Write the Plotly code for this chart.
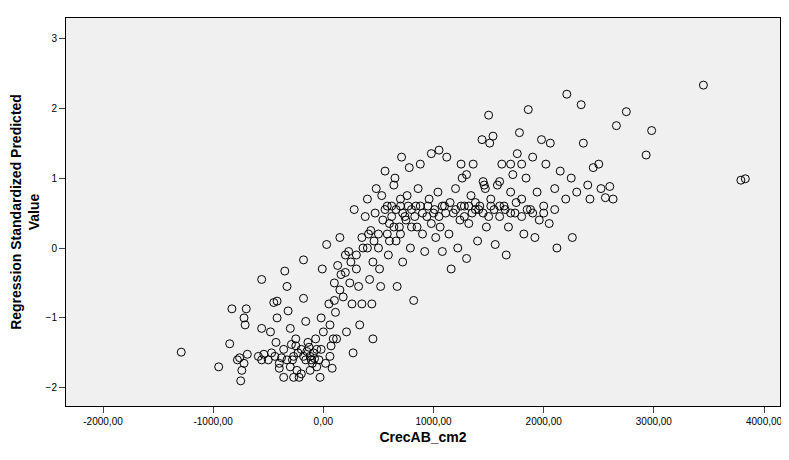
import plotly.graph_objects as go

# CrecAB_cm2 vs Regression Standardized Predicted Value
crec = [-1290, -950, -830, -850, -780, -760, -750, -740, -720, -700, -710, -690, -720, -560, -560, -590, -560, -540, -500, -480,
        -470, -440, -450, -420, -420, -380, -400, -360, -350, -330, -320, -300, -290, -280, -270, -250, -240, -220, -200, -180,
        -180, -160, -150, -130, -120, -110, -100, -80, -70, -60, -40, -20, -10, 0, 30, 50, 60, 70, 80, 100,
        110, 120, 130, 150, 160, 180, 200, 210, 230, 240, 260, 270, 280, 300, 320, 330, 350, 360, 380, 400,
        410, 420, 440, 450, 460, 470, 480, 500, 510, 520, 530, 560, 580, 590, 600, 620, 640, 650, 660, 670,
        690, 700, 710, 720, 740, 760, 780, 790, 800, 820, 840, 860, 880, 900, 920, 940, 960, 980, 1000, 1020,
        1040, 1050, 1060, 1080, 1100, 1120, 1140, 1160, 1180, 1200, 1220, 1240, 1260, 1280, 1300, 1320, 1340, 1360, 1380, 1400,
        1420, 1440, 1460, 1480, 1500, 1510, 1520, 1540, 1560, 1580, 1600, 1620, 1640, 1660, 1680, 1700, 1720, 1740, 1760, 1780,
        1800, 1820, 1840, 1860, 1880, 1900, 1920, 1940, 1960, 1980, 2000, 2020, 2050, 2060, 2100, 2120, 2150, 2200, 2210, 2250,
        2260, 2300, 2340, 2360, 2400, 2420, 2450, 2500, 2520, 2560, 2600, 2630, 2660, 2750, 2930, 2980, 3450, 3790, 3830,
        -250, -230, -200, -180, -160, -140, -90, -60, -30, -300, -330, -360, -400, -430, -270, -120, 60, 90, -20, 20,
        540, 560, 580, 620, 640, 660, 700, 720, 750, 770, 800, 830, 850, 880, 900, 950, 980, 1010, 1050, 1080,
        1110, 1150, 1200, 1250, 1280, 1320, 1350, 1380, 1410, 1450, 1470, 1520, 1550, 1600, 1650, 1700, 1750, 1800, 1850, 1900,
        2000, 2100, 350, 400, 430, 300, 250, 200, 150, 100, 700, 600, 500, 450, 1250, 1300, 1450, 1500, 1600, 1700, 1800]
pred = [-1.49, -1.7, -0.87, -1.37, -1.6, -1.57, -1.9, -1.75, -1.0, -0.87, -1.1, -1.52, -1.65, -0.45, -1.15, -1.55, -1.6, -1.52, -1.6, -1.2,
        -1.5, -1.55, -0.78, -0.76, -1.0, -1.57, -1.72, -1.85, -0.33, -0.55, -0.9, -1.15, -1.38, -1.6, -1.55, -1.3, -1.75, -1.85, -1.8, -0.17,
        -0.72, -1.05, -1.48, -1.42, -1.55, -1.6, -1.65, -1.58, -1.3, -1.45, -1.6, -1.0, -0.3, -1.2, 0.05, -0.8, -1.1, -1.4, -1.72, -0.5,
        -0.92, -1.3, -0.25, 0.15, -0.38, -0.7, -0.35, -1.2, -0.05, -0.5, -0.8, -1.5, 0.55, -0.3, -0.55, -1.1, -0.8, 0.0, 0.45, 0.7,
        0.2, -0.45, -0.8, -1.3, 0.1, 0.5, 0.85, 0.0, -0.3, -0.55, 0.75, 1.1, 0.2, -0.1, 0.35, 0.6, 0.9, 1.0, 0.1, -0.55,
        0.3, 0.6, 1.3, -0.2, 0.45, 0.75, 1.15, 0.0, 0.3, -0.75, 0.6, 0.85, 1.2, 0.2, -0.05, 0.45, 0.7, 1.35, 0.5, 0.15,
        0.8, 1.4, 0.3, -0.05, 0.6, 1.3, 0.2, -0.3, 0.5, 0.85, 0.0, 0.4, 1.0, 0.6, -0.15, 0.35, 0.75, 1.2, 0.55, 0.1,
        0.6, 1.55, 0.9, 0.3, 1.9, 1.5, 0.6, 1.6, 0.05, 0.9, 0.45, 1.2, 0.6, -0.1, 0.3, 0.8, 1.05, 0.5, 1.35, 1.65,
        0.7, 0.2, 1.0, 1.98, 0.55, 1.3, 0.15, 0.8, 0.4, 1.55, 0.6, 1.2, 0.35, 1.5, 0.85, 0.0, 1.1, 0.7, 2.2, 1.0,
        0.15, 0.8, 2.05, 1.5, 0.9, 0.7, 1.15, 1.2, 0.85, 0.72, 0.88, 0.7, 1.75, 1.95, 1.33, 1.68, 2.33, 0.97, 0.99,
        -1.4, -1.5, -1.45, -1.55, -1.6, -1.35, -1.5, -1.7, -1.85, -1.7, -1.6, -1.45, -1.65, -1.35, -1.85, -1.75, -1.55, -1.3, -1.45, -1.65,
        0.4, 0.55, 0.6, 0.45, 0.3, 0.55, 0.7, 0.5, 0.4, 0.6, 0.55, 0.45, 0.3, 0.6, 0.5, 0.6, 0.35, 0.55, 0.45, 0.6,
        0.5, 0.65, 0.55, 0.6, 0.45, 0.6, 0.5, 0.65, 0.55, 0.95, 0.85, 0.7, 0.55, 0.6, 0.55, 0.5, 0.65, 0.45, 0.55, 0.5,
        0.5, 0.55, 0.15, 0.0, 0.25, -0.1, -0.2, -0.1, -0.6, -0.75, 0.2, 0.1, 0.2, -0.2, 1.2, 1.05, 0.5, 0.45, 0.95, 1.2, 1.2]

x_ticks = [-2000, -1000, 0, 1000, 2000, 3000, 4000]
x_labels = ["-2000,00", "-1000,00", "0,00", "1000,00", "2000,00", "3000,00", "4000,00"]
y_ticks = [-2, -1, 0, 1, 2, 3]

fig = go.Figure()
fig.add_trace(go.Scatter(x=crec, y=pred, mode='markers',
                         marker=dict(symbol='circle-open', size=8, color='black',
                                     line=dict(width=1, color='black'))))

fig.update_layout(width=789, height=460, showlegend=False,
                  paper_bgcolor='white', plot_bgcolor='#f0f0f0',
                  margin=dict(l=58, r=17, t=10, b=62),
                  font=dict(family='Liberation Sans, Arial', size=10, color='black'))
fig.update_xaxes(range=[-2336, 4145], tickvals=x_ticks, ticktext=x_labels, automargin=False,
                 showgrid=False, zeroline=False, ticks='outside', ticklen=6,
                 showline=True, linecolor='black', mirror=True,
                 title=dict(text='<b>CrecAB_cm2</b>', font=dict(size=14), standoff=6))
fig.update_yaxes(range=[-2.26, 3.29], tickvals=y_ticks, automargin=False,
                 showgrid=False, zeroline=False, ticks='outside', ticklen=6,
                 showline=True, linecolor='black', mirror=True,
                 title=dict(text='<b>Regression Standardized Predicted<br>Value</b>',
                            font=dict(size=14), standoff=4))

fig.write_html("out.html")
